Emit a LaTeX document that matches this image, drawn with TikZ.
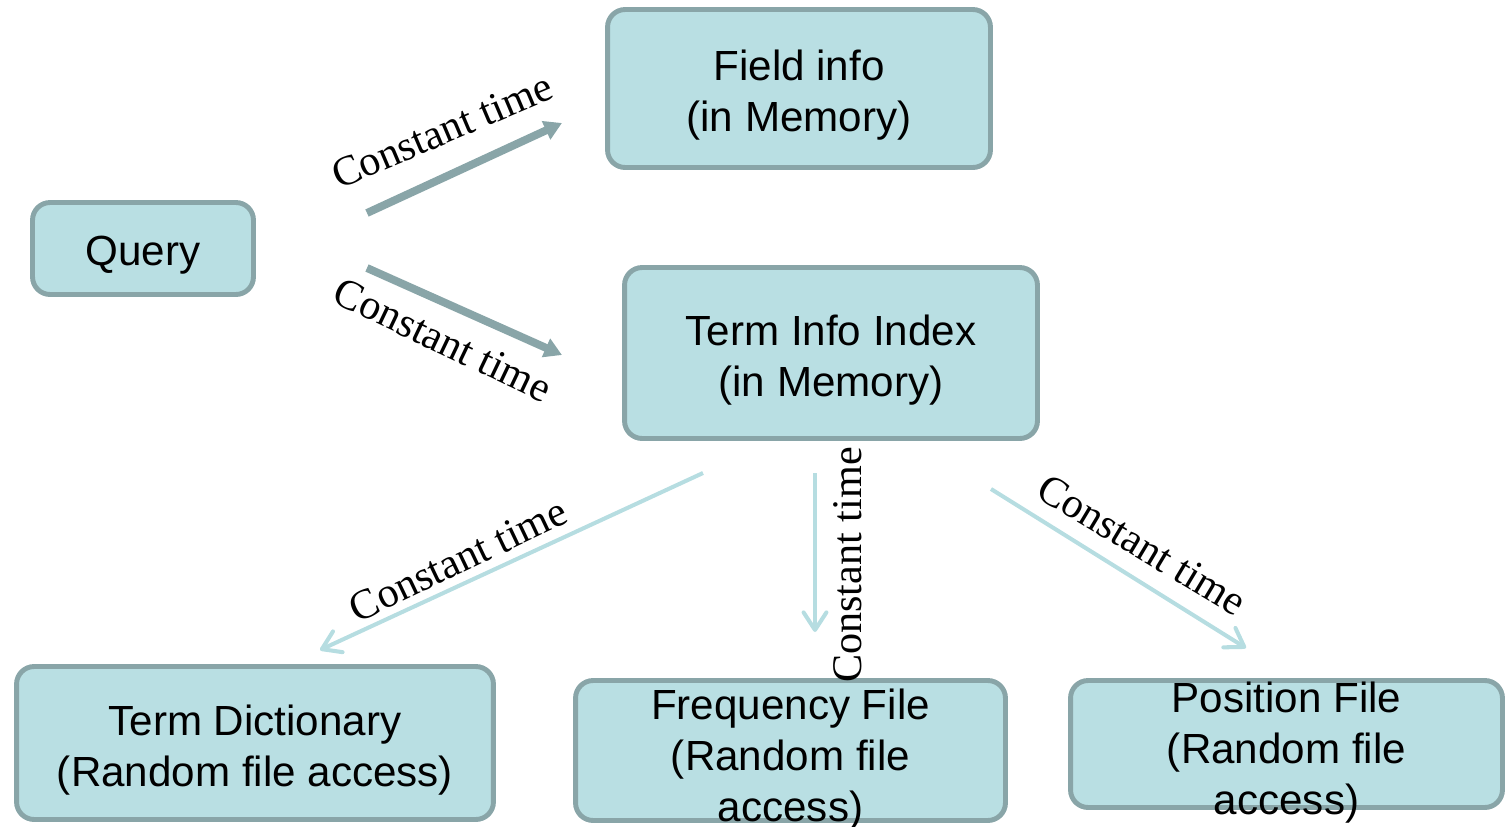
\documentclass[tikz,border=0pt]{standalone}
\usepackage{fontspec}
\setmainfont{Liberation Serif}
\setsansfont{Liberation Sans}
\usepackage{tikz}
\usetikzlibrary{arrows.meta}

\definecolor{boxfill}{RGB}{185,223,227}
\definecolor{boxline}{RGB}{137,165,168}
\definecolor{lightarr}{RGB}{182,221,225}

\begin{document}
\begin{tikzpicture}[x=0.02cm,y=-0.02cm,
				box/.style={draw=boxline,fill=boxfill,line width=2.8pt,
					rounded corners=10pt,inner sep=0pt},
				boxtxt/.style={inner sep=0pt,align=center,
					font=\sffamily\fontsize{24}{29}\selectfont},
				txt/.style={label={[boxtxt,yshift=-4pt]center:#1}},
				darr/.style={draw=boxline,line width=4.5pt,
					-{Triangle[length=10pt,width=11pt]}},
				larr/.style={draw=lightarr,line width=2.3pt,
					-{Straight Barb[length=10pt,width=13pt,round]}},
				ctime/.style={font=\fontsize{24}{29}\selectfont,inner sep=0pt}]

				\useasboundingbox (0,0) rectangle (1509,826);

				%%%%%%%%%%%%%%%%  boxes  %%%%%%%%%%%%%%%%
				\node[box,minimum width=4.42cm,minimum height=1.84cm,
					txt={Query}] (query) at (143,248.5) {};
				\node[box,minimum width=7.66cm,minimum height=3.16cm,
					txt={Field info\\(in Memory)}] (field) at (799,88.5) {};
				\node[box,minimum width=8.26cm,minimum height=3.42cm,
					txt={Term Info Index\\(in Memory)}] (tinfo) at (831,353) {};
				\node[box,minimum width=9.54cm,minimum height=3.06cm,
					txt={Term Dictionary\\(Random file access)}] (tdict) at (255,743) {};
				% the text runs out of these two boxes
				\node[box,minimum width=8.60cm,minimum height=2.80cm,
					label={[boxtxt,yshift=-5.3pt]center:Frequency File\\(Random file\\access)}]
					(freq) at (790.5,750.5) {};
				\node[box,minimum width=8.64cm,minimum height=2.54cm,
					label={[boxtxt,yshift=-4.8pt]center:Position File\\(Random file\\access)}]
					(posf) at (1286.5,744) {};

				%%%%%%%%%%%%%%%%  arrows  %%%%%%%%%%%%%%%%
				\coordinate (a1s) at (367,213);  \coordinate (a1e) at (562,123);
				\coordinate (a2s) at (367,268);  \coordinate (a2e) at (562,355);
				\coordinate (b1s) at (703,473);  \coordinate (b1e) at (320,650);
				\coordinate (b2s) at (815,473);  \coordinate (b2e) at (815,632);
				\coordinate (b3s) at (991,489);  \coordinate (b3e) at (1246,648);
				% from the query
				\draw[darr] (a1s) -- (a1e);
				\draw[darr] (a2s) -- (a2e);
				% out of the term info index
				\draw[larr] (b1s) -- (b1e);
				\draw[larr] (b2s) -- (b2e);
				\draw[larr] (b3s) -- (b3e);

				%%%%%%%%%%%%%%%%  labels  %%%%%%%%%%%%%%%%
				\node[ctime,rotate=23] (ct1) at (442,131) {Constant time};
				\node[ctime,rotate=-25.5] (ct2) at (443,340) {Constant time};
				\node[ctime,rotate=25.5] (ct3) at (458,560) {Constant time};
				\node[ctime,rotate=90] (ct4) at (848,565) {Constant time};
				\node[ctime,rotate=-31] (ct5) at (1142,545) {Constant time};
			\end{tikzpicture}
\end{document}
